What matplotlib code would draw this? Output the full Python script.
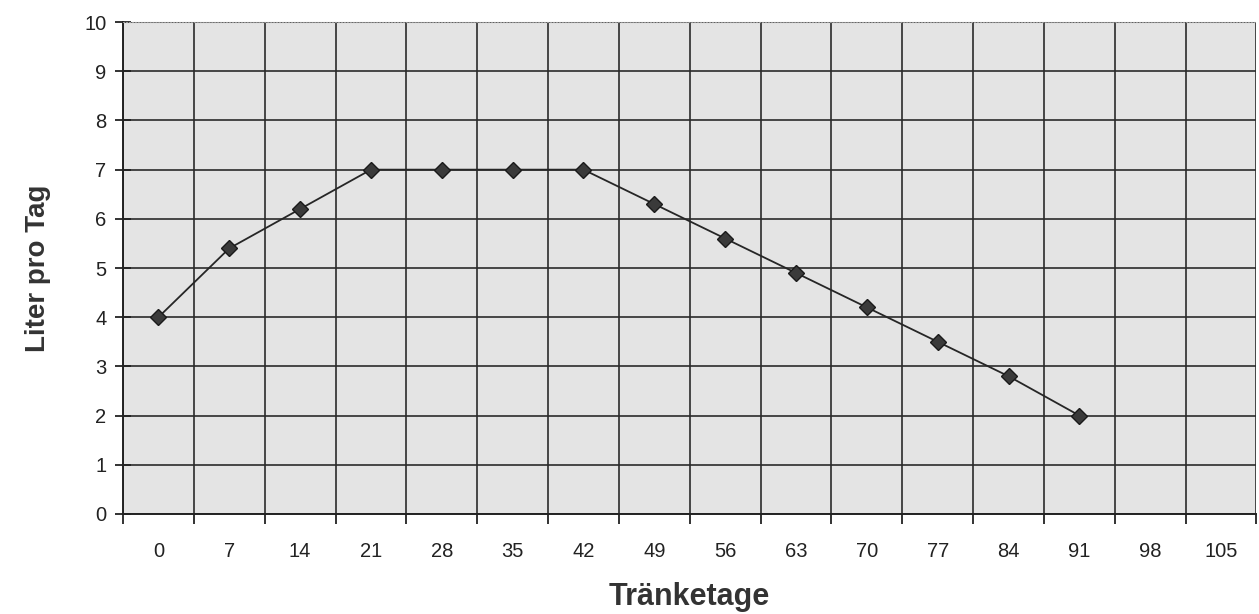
import numpy as np
import matplotlib
matplotlib.use("Agg")
import matplotlib.pyplot as plt

plt.rcParams["font.family"] = ["Liberation Sans", "DejaVu Sans"]

# data
days = [0, 7, 14, 21, 28, 35, 42, 49, 56, 63, 70, 77, 84, 91, 98, 105]
liters = [4.0, 5.4, 6.2, 7.0, 7.0, 7.0, 7.0, 6.3, 5.6, 4.9, 4.2, 3.5, 2.8, 2.0]
y_ticks = list(range(0, 11))

fig = plt.figure(figsize=(12.59, 6.14), dpi=100)
ax = fig.add_axes([0.0977, 0.163, 0.9003, 0.801])
ax.set_facecolor("#e4e4e4")

n = len(days)
pos = np.arange(len(liters))
ax.plot(pos, liters, color="#262626", linewidth=1.3, zorder=4)
ax.plot(pos, liters, linestyle="none", marker="D", markersize=8.5,
        markerfacecolor="#3a3a3a", markeredgecolor="#1a1a1a", zorder=5)

ax.set_xlim(-0.5, n - 0.5)
ax.set_ylim(0, 10)

# category borders as major ticks, labels centred in the cells
ax.set_xticks(np.arange(n + 1) - 0.5)
ax.set_xticklabels([])
ax.set_xticks(np.arange(n), minor=True)
ax.set_xticklabels([str(d) for d in days], minor=True)
ax.tick_params(axis="x", which="major", direction="out", length=7,
               width=1.3, color="#222222")
ax.tick_params(axis="x", which="minor", length=0, pad=20, labelsize=14.5,
               labelcolor="#222222")

ax.set_yticks(y_ticks)
ax.tick_params(axis="y", direction="inout", length=12, width=1.3,
               color="#222222", labelsize=14.5, labelcolor="#222222", pad=6)

ax.grid(True, which="major", color="#2a2a2a", linewidth=1.2)
ax.set_axisbelow(True)

for side in ["left", "bottom"]:
    ax.spines[side].set_color("#222222")
    ax.spines[side].set_linewidth(1.4)
ax.spines["top"].set_color("#9a9a9a")
ax.spines["top"].set_linestyle(":")
ax.spines["right"].set_visible(False)

ax.set_xlabel("Tränketage", fontsize=22, fontweight="bold",
              color="#333333", labelpad=15)
ax.set_ylabel("Liter pro Tag", fontsize=20, fontweight="bold",
              color="#333333", labelpad=24)

fig.savefig("out.png", dpi=100)
